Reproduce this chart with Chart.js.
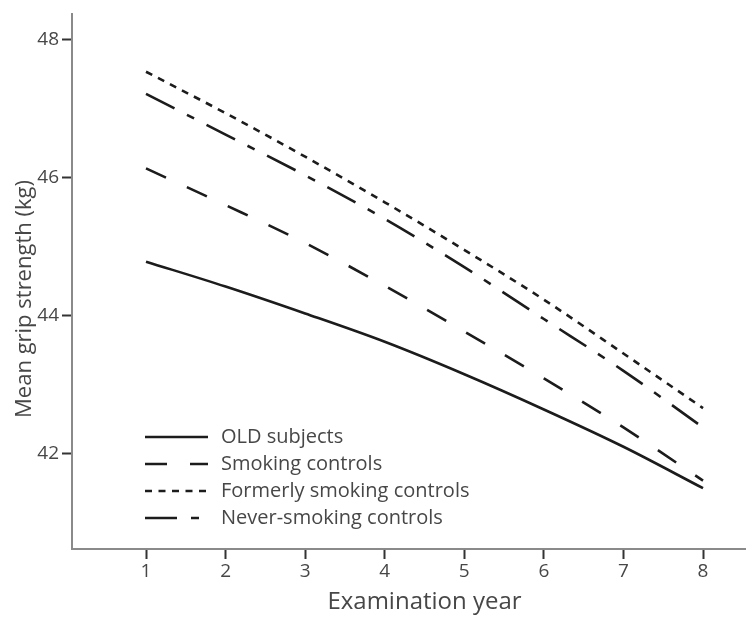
<!DOCTYPE html>
<html>
<head>
<meta charset="utf-8">
<title>Mean grip strength by examination year</title>
<script src="https://cdn.jsdelivr.net/npm/chart.js@4.4.1/dist/chart.umd.min.js"></script>
<style>
  html, body { margin: 0; padding: 0; background: #fff; }
  #wrap { width: 746px; height: 625px; }
</style>
</head>
<body>
<div id="wrap"><canvas id="gripChart" width="746" height="625"></canvas></div>
<script>
// examination years and mean grip strength (kg) per group
var years = [1, 2, 3, 4, 5, 6, 7, 8];
var oldSubjects = [44.78, 44.42, 44.03, 43.62, 43.15, 42.64, 42.10, 41.50];
var smokingControls = [46.13, 45.60, 45.05, 44.43, 43.77, 43.09, 42.38, 41.61];
var formerSmokingControls = [47.53, 46.93, 46.30, 45.64, 44.95, 44.23, 43.45, 42.66];
var neverSmokingControls = [47.21, 46.62, 46.03, 45.40, 44.70, 43.95, 43.20, 42.38];
var groupNames = ["OLD subjects", "Smoking controls", "Formerly smoking controls", "Never-smoking controls"];
var yTicks = [42, 44, 46, 48];

var FONT = "'Open Sans', 'DejaVu Sans', sans-serif";
var TEXT = "#474747";

function makeSet(label, values, dash) {
	return {
		label: label,
		data: years.map(function (y, i) { return { x: y, y: values[i] } }),
		borderColor: "#1c1c1c",
		borderWidth: 2.6,
		borderDash: dash,
		borderCapStyle: "butt",
		pointRadius: 0,
		fill: false,
		cubicInterpolationMode: "monotone"
	}
}

// legend box drawn inside the plot, lower left
var innerLegend = {
	id: "innerLegend",
	afterDatasetsDraw: function (chart) {
		var ctx = chart.ctx
		var area = chart.chartArea
		ctx.save()
		ctx.font = "20px " + FONT
		ctx.textBaseline = "middle"
		chart.data.datasets.forEach(function (ds, i) {
			var y = area.bottom - 112 + i * 27
			ctx.strokeStyle = ds.borderColor
			ctx.lineWidth = ds.borderWidth
			ctx.setLineDash(ds.borderDash || [])
			ctx.beginPath()
			ctx.moveTo(area.left + 73, y)
			ctx.lineTo(area.left + 136, y)
			ctx.stroke()
			ctx.setLineDash([])
			ctx.fillStyle = TEXT
			ctx.fillText(ds.label, area.left + 149, y)
		})
		ctx.restore()
	}
}

// axis titles
var axisTitles = {
	id: "axisTitles",
	afterDraw: function (chart) {
		var ctx = chart.ctx
		var xs = chart.scales.x
		ctx.save()
		ctx.fillStyle = TEXT
		ctx.textAlign = "center"
		ctx.textBaseline = "middle"
		ctx.font = "24px " + FONT
		ctx.fillText("Examination year", (xs.getPixelForValue(1) + xs.getPixelForValue(8)) / 2, 602)
		ctx.translate(25, 299)
		ctx.rotate(-Math.PI / 2)
		ctx.font = "22px " + FONT
		ctx.fillText("Mean grip strength (kg)", 0, 0)
		ctx.restore()
	}
}

new Chart(document.getElementById("gripChart"), {
	type: "line",
	data: {
		datasets: [
			makeSet(groupNames[0], oldSubjects, []),
			makeSet(groupNames[1], smokingControls, [22, 23]),
			makeSet(groupNames[2], formerSmokingControls, [7, 6.5]),
			makeSet(groupNames[3], neverSmokingControls, [32, 14, 8, 14])
		]
	},
	plugins: [innerLegend, axisTitles],
	options: {
		responsive: false,
		animation: false,
		layout: { padding: { top: 10, right: 0, left: 0, bottom: 0 } },
		plugins: {
			legend: { display: false },
			tooltip: { enabled: false }
		},
		scales: {
			x: {
				type: "linear",
				min: 0.07,
				max: 8.54,
				afterBuildTicks: function (scale) {
					scale.ticks = years.map(function (v) { return { value: v } })
				},
				afterFit: function (scale) { scale.height = 76 },
				grid: { drawOnChartArea: false, drawTicks: true, tickLength: 10, tickWidth: 2, tickColor: "#333" },
				border: { display: true, color: "#8a8a8a", width: 2 },
				ticks: { color: TEXT, font: { family: FONT, size: 19 }, padding: 1, maxRotation: 0 }
			},
			y: {
				min: 40.62,
				max: 48.36,
				afterBuildTicks: function (scale) {
					scale.ticks = yTicks.map(function (v) { return { value: v } })
				},
				afterFit: function (scale) { scale.width = 72 },
				grid: { drawOnChartArea: false, drawTicks: true, tickLength: 10, tickWidth: 2, tickColor: "#333" },
				border: { display: true, color: "#8a8a8a", width: 2 },
				ticks: { color: TEXT, font: { family: FONT, size: 19 }, padding: 3 }
			}
		}
	}
})
</script>
</body>
</html>
